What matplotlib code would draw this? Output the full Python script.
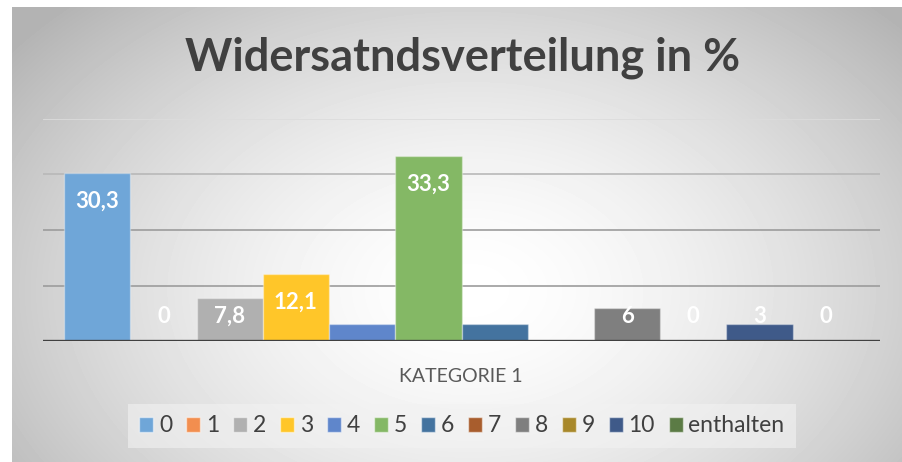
import numpy as np
import matplotlib
matplotlib.use("Agg")
import matplotlib.pyplot as plt

plt.rcParams['font.family'] = ['Lato', 'DejaVu Sans']

# data
series = ['0', '1', '2', '3', '4', '5', '6', '7', '8', '9', '10', 'enthalten']
values = [30.3, 0, 7.8, 12.1, 3, 33.3, 3, 0, 6, 0, 3, 0]
labels = ['30,3', '0', '7,8', '12,1', None, '33,3', None, None, '6', '0', '3', '0']
colors = ['#6FA6D8', '#F28E4F', '#B0B0B0', '#FFC629', '#5F86CB', '#84B865',
          '#44739F', '#A85D2D', '#7F7F7F', '#A8882A', '#3F5A89', '#5B7B45']
category = 'KATEGORIE 1'
title = 'Widersatndsverteilung in %'

W, H = 902, 462
fig = plt.figure(figsize=(W / 100, H / 100), dpi=100)
fig.patch.set_facecolor('white')

# chart area with radial grey gradient
bx0, by0 = 12, 7
bg = fig.add_axes([bx0 / W, 0, 1 - bx0 / W, 1 - by0 / H])
bg.set_axis_off()
xx, yy = np.meshgrid(np.arange(bx0, W), np.arange(by0, H))
d = np.sqrt(((xx - 470) / 480.0) ** 2 + ((yy - 290) / 330.0) ** 2)
shade = 1 - 0.22 * np.clip(d, 0, 1.2) ** 1.6
bg.imshow(shade, cmap='gray', vmin=0, vmax=1, aspect='auto',
          extent=[0, 1, 0, 1], interpolation='bilinear')
bg.set_xlim(0, 1)
bg.set_ylim(0, 1)

# plot area
left, right, top, base = 43, 880, 119, 341
ax = fig.add_axes([left / W, 1 - base / H, (right - left) / W, (base - top) / H])
ax.patch.set_alpha(0)
x = np.arange(len(series))
ax.set_xlim(-0.817, len(series) - 1 + 0.817)
ax.set_ylim(0, 40)
for g, c in zip([10, 20, 30, 40], ['#9c9c9c', '#9c9c9c', '#b8b8b8', '#dcdcdc']):
    ax.axhline(g, color=c, lw=1.2, zorder=0)
bars = ax.bar(x, values, width=1.0, color=colors, edgecolor=(1, 1, 1, 0.35),
              linewidth=1.0, zorder=2)
ax.axhline(0, color='#404040', lw=2.4, zorder=3)
for s in ax.spines.values():
    s.set_visible(False)
ax.set_xticks([])
ax.set_yticks([])

for xi, v, lab in zip(x, values, labels):
    if lab is None:
        continue
    ypos = max(v - 5.1, 4.4)
    ax.text(xi, ypos, lab, ha='center', va='center', color='white',
            fontsize=16, fontweight='bold', zorder=4)

fig.text(461 / W, 1 - 376 / H, category, ha='center', va='center',
         fontsize=14, color='#595959')
fig.text(463 / W, 1 - 58 / H, title, ha='center', va='center',
         fontsize=32.5, fontweight='bold', color='#404040')

handles = [plt.Rectangle((0, 0), 1, 1, facecolor=c, edgecolor=(1, 1, 1, 0.5))
           for c in colors]
leg = fig.legend(handles, series, loc='center', bbox_to_anchor=(462 / W, 1 - 426 / H),
                 ncol=len(series), frameon=True, fontsize=16.5,
                 handlelength=0.6, handleheight=0.6, handletextpad=0.25,
                 columnspacing=0.62, borderpad=0.5, borderaxespad=0)
leg.get_frame().set_facecolor('#f2f2f2')
leg.get_frame().set_edgecolor('none')
leg.get_frame().set_alpha(0.6)
leg.get_frame().set_boxstyle('square', pad=0)
for t in leg.get_texts():
    t.set_color('#404040')

fig.savefig('out.png', dpi=100)
